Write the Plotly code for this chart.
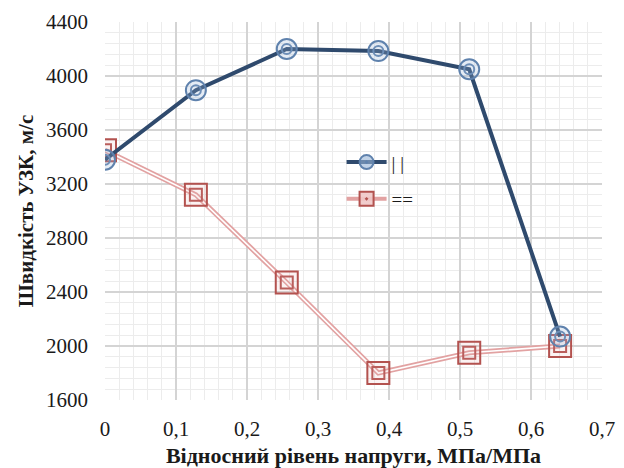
import plotly.graph_objects as go

# Relative stress level (MPa/MPa)
stress_level = [0, 0.128, 0.256, 0.385, 0.513, 0.641]
# Ultrasonic velocity, m/s, for the two orientations
velocity_parallel = [3380, 3895, 4200, 4185, 4050, 2070]
velocity_perp = [3450, 3120, 2470, 1800, 1950, 2000]

x_tick_vals = [0, 0.1, 0.2, 0.3, 0.4, 0.5, 0.6, 0.7]
x_tick_text = ["0", "0,1", "0,2", "0,3", "0,4", "0,5", "0,6", "0,7"]
y_tick_vals = [1600, 2000, 2400, 2800, 3200, 3600, 4000, 4400]
y_tick_text = ["1600", "2000", "2400", "2800", "3200", "3600", "4000", "4400"]

name_parallel = "| |"
name_perp = "=="

navy = "#2f4a6d"
ring_blue = "#5f82ad"
pink = "#e2a2a2"
brick = "#b3524f"

fig = go.Figure()

# "==" series: double pink line with double-square markers
fig.add_trace(go.Scatter(
    x=stress_level, y=velocity_perp, mode="lines",
    line=dict(color=pink, width=5), showlegend=False, hoverinfo="skip"))
fig.add_trace(go.Scatter(
    x=stress_level, y=velocity_perp, mode="lines",
    line=dict(color="white", width=1.6), showlegend=False, hoverinfo="skip"))
fig.add_trace(go.Scatter(
    x=stress_level, y=velocity_perp, mode="markers",
    marker=dict(symbol="square-open", size=12, color=brick, line=dict(width=2, color=brick)),
    showlegend=False, hoverinfo="skip"))
fig.add_trace(go.Scatter(
    x=stress_level, y=velocity_perp, mode="markers",
    marker=dict(symbol="square", size=22, color="rgba(230,170,170,0.15)",
                line=dict(width=2, color=brick)),
    showlegend=False, hoverinfo="skip"))

# "||" series: thick navy line with double-ring markers
fig.add_trace(go.Scatter(
    x=stress_level, y=velocity_parallel, mode="lines",
    line=dict(color=navy, width=4), showlegend=False, hoverinfo="skip"))
fig.add_trace(go.Scatter(
    x=stress_level, y=velocity_parallel, mode="markers",
    marker=dict(symbol="circle-open", size=10, color=ring_blue, line=dict(width=2, color=ring_blue)),
    showlegend=False, hoverinfo="skip"))
fig.add_trace(go.Scatter(
    x=stress_level, y=velocity_parallel, mode="markers",
    marker=dict(symbol="circle", size=20, color="rgba(150,180,215,0.25)",
                line=dict(width=2, color=ring_blue)),
    showlegend=False, hoverinfo="skip"))

# Legend entries (line + marker samples only)
fig.add_trace(go.Scatter(
    x=[None], y=[None], mode="lines+markers", name=name_parallel,
    line=dict(color=navy, width=4),
    marker=dict(symbol="circle-dot", size=14, color="rgba(150,180,215,0.6)",
                line=dict(width=2, color=ring_blue)),
    legendgroup="a"))
fig.add_trace(go.Scatter(
    x=[None], y=[None], mode="lines+markers", name=name_perp,
    line=dict(color=pink, width=4),
    marker=dict(symbol="square-dot", size=14, color="rgba(240,200,200,0.9)",
                line=dict(width=2, color=brick)),
    legendgroup="b"))

grid_major = "#d4d4d4"
grid_minor = "#ececec"
serif = "Liberation Serif"

fig.update_layout(
    width=624, height=468,
    margin=dict(l=105, r=22, t=22, b=68),
    paper_bgcolor="white", plot_bgcolor="white",
    font=dict(family=serif, size=20, color="#1a1a1a"),
    showlegend=True,
    legend=dict(x=0.476, y=0.58, xanchor="left", yanchor="middle",
                bgcolor="rgba(0,0,0,0)", font=dict(size=19),
                tracegroupgap=9, traceorder="grouped", itemwidth=40),
    xaxis=dict(
        range=[0, 0.7], tickvals=x_tick_vals, ticktext=x_tick_text,
        showgrid=True, gridcolor=grid_major, gridwidth=2,
        minor=dict(dtick=0.02, showgrid=True, gridcolor=grid_minor, gridwidth=1),
        zeroline=False, showline=False, ticks="", ticklabelstandoff=14,
        tickfont=dict(size=21), automargin=False,
        title=dict(text="<b>Відносний рівень напруги, МПа/МПа</b>", standoff=8,
                   font=dict(size=22)),
    ),
    yaxis=dict(
        range=[1600, 4400], tickvals=y_tick_vals, ticktext=y_tick_text,
        showgrid=True, gridcolor=grid_major, gridwidth=2,
        minor=dict(dtick=80, showgrid=True, gridcolor=grid_minor, gridwidth=1),
        zeroline=False, showline=False, ticks="", ticklabelstandoff=16,
        tickfont=dict(size=21), automargin=False,
        title=dict(text="<b>Швидкість УЗК, м/с</b>", standoff=6, font=dict(size=21)),
    ),
)

fig.write_html("out.html")
